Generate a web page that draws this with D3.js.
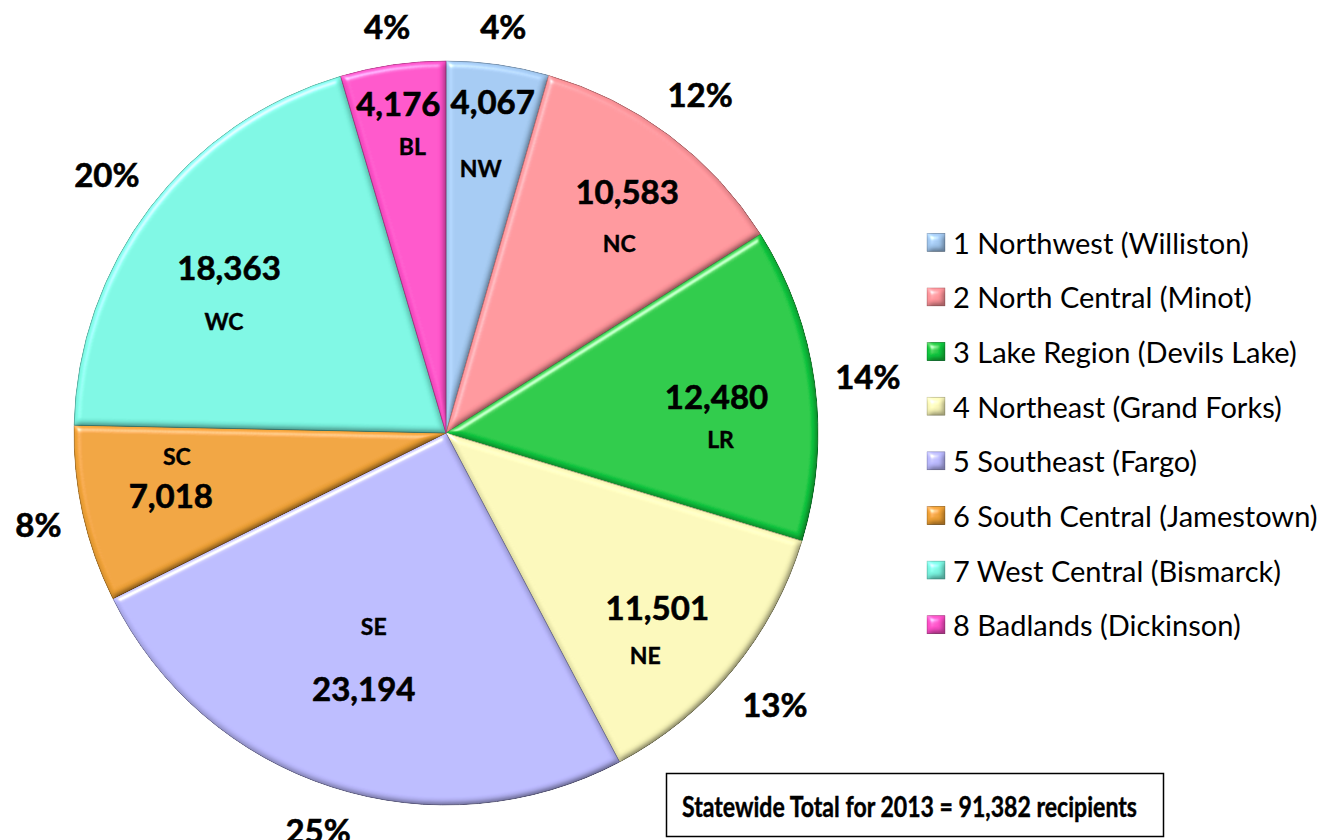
<!DOCTYPE html>
<html>
<head>
<meta charset="utf-8">
<script src="https://cdn.jsdelivr.net/npm/d3@7"></script>
<style>
  html, body { margin: 0; padding: 0; background: #fff; }
  svg { display: block; font-family: Lato, "Open Sans", sans-serif; }
  .heavy { font-weight: 700; fill: #000; stroke: #000; stroke-width: 0.6px; }
</style>
</head>
<body>
<svg id="chart" width="1331" height="840"></svg>
<script>
// Recipients by region, 2013
const codes = ["NW", "NC", "LR", "NE", "SE", "SC", "WC", "BL"];
const regionNames = [
  "1 Northwest (Williston)",
  "2 North Central (Minot)",
  "3 Lake Region (Devils Lake)",
  "4 Northeast (Grand Forks)",
  "5 Southeast (Fargo)",
  "6 South Central (Jamestown)",
  "7 West Central (Bismarck)",
  "8 Badlands (Dickinson)"
];
const recipients = [4067, 10583, 12480, 11501, 23194, 7018, 18363, 4176];
const percentLabels = ["4%", "12%", "14%", "13%", "25%", "8%", "20%", "4%"];
const colors = ["#a3c9f1", "#ff959b", "#12c940", "#faf7b9", "#bbbaff", "#f0a236", "#7bf6e2", "#ff50c9"];
const totalText = "Statewide Total for 2013 = 91,382 recipients";

// label layout: distance of the value label from the centre, and
// offset of the region code relative to the value label
const valueRadius = [335, 302, 273, 274, 268, 282, 273, 333];
const codeOffset  = [67, 52, 43, 48, -62, -39, 54, 43];
const codeDx      = [-12, -8, 4, -12, 10, 6, -5, 14];

const svg = d3.select("#chart");
const cx = 446, cy = 433, R = 372;

// bevel filter: light from the upper left, shade toward the lower right
const defs = svg.append("defs");
const f = defs.append("filter").attr("id", "bevel")
  .attr("x", "-5%").attr("y", "-5%").attr("width", "110%").attr("height", "110%");
f.append("feGaussianBlur").attr("in", "SourceAlpha").attr("stdDeviation", 3).attr("result", "blur");
const spec = f.append("feSpecularLighting").attr("in", "blur")
  .attr("surfaceScale", 4).attr("specularConstant", 0.55).attr("specularExponent", 40)
  .attr("lighting-color", "#ffffff").attr("result", "spec");
spec.append("feDistantLight").attr("azimuth", 235).attr("elevation", 45);
f.append("feComposite").attr("in", "spec").attr("in2", "SourceAlpha").attr("operator", "in").attr("result", "specIn");
const diff = f.append("feDiffuseLighting").attr("in", "blur")
  .attr("surfaceScale", 4).attr("diffuseConstant", 1)
  .attr("lighting-color", "#ffffff").attr("result", "diff");
diff.append("feDistantLight").attr("azimuth", 235).attr("elevation", 60);
f.append("feComposite").attr("in", "SourceGraphic").attr("in2", "diff")
  .attr("operator", "arithmetic").attr("k1", 1.15).attr("k2", 0).attr("k3", 0).attr("k4", 0)
  .attr("result", "shaded");
f.append("feComposite").attr("in", "shaded").attr("in2", "specIn")
  .attr("operator", "arithmetic").attr("k1", 0).attr("k2", 1).attr("k3", 1).attr("k4", 0)
  .attr("result", "lit");
f.append("feComposite").attr("in", "lit").attr("in2", "SourceAlpha").attr("operator", "in");

const pie = d3.pie().sort(null).value(d => d)(recipients);
const arc = d3.arc().innerRadius(0).outerRadius(R);

const g = svg.append("g").attr("transform", `translate(${cx},${cy})`);

g.selectAll("path.slice")
  .data(pie)
  .join("path")
  .attr("class", "slice")
  .attr("d", arc)
  .attr("fill", (d, i) => colors[i])
  .attr("stroke", (d, i) => d3.color(colors[i]).darker(0.9))
  .attr("stroke-width", 1)
  .attr("stroke-linejoin", "round")
  .attr("filter", "url(#bevel)");

const mid = d => (d.startAngle + d.endAngle) / 2;

// value and code labels inside each slice
pie.forEach((d, i) => {
  const a = mid(d);
  const x = valueRadius[i] * Math.sin(a);
  const y = -valueRadius[i] * Math.cos(a);
  g.append("text").attr("class", "heavy")
    .attr("x", x).attr("y", y)
    .attr("text-anchor", "middle").attr("dominant-baseline", "central")
    .attr("font-size", 33)
    .text(d3.format(",")(d.value));
  g.append("text").attr("class", "heavy")
    .attr("x", x + codeDx[i]).attr("y", y + codeOffset[i])
    .attr("text-anchor", "middle").attr("dominant-baseline", "central")
    .attr("font-size", 23).style("stroke-width", "0.4px")
    .text(codes[i]);
});

// percentage labels outside the pie
pie.forEach((d, i) => {
  const a = mid(d);
  const label = percentLabels[i];
  const hw = label.length > 2 ? 31 : 22, hh = 15;
  const r = R + 21 + hw * Math.abs(Math.sin(a)) + hh * Math.abs(Math.cos(a));
  g.append("text").attr("class", "heavy")
    .attr("x", r * Math.sin(a)).attr("y", -r * Math.cos(a))
    .attr("text-anchor", "middle").attr("dominant-baseline", "central")
    .attr("font-size", 33)
    .text(label);
});

// legend
const ly = d3.scaleBand().domain(d3.range(regionNames.length)).range([215, 652]);
const legend = svg.append("g");
regionNames.forEach((name, i) => {
  const yc = ly(i) + ly.bandwidth() / 2;
  legend.append("rect")
    .attr("x", 927).attr("y", yc - 9).attr("width", 18).attr("height", 18)
    .attr("fill", colors[i])
    .attr("stroke", d3.color(colors[i]).darker(0.9)).attr("stroke-width", 0.8)
    .attr("filter", "url(#bevel)");
  legend.append("text")
    .attr("x", 953).attr("y", yc)
    .attr("dominant-baseline", "central")
    .attr("font-size", 29).attr("fill", "#000")
    .text(name);
});

// statewide total box
svg.append("rect")
  .attr("x", 666.5).attr("y", 773.5).attr("width", 497).attr("height", 63)
  .attr("fill", "#fff").attr("stroke", "#000").attr("stroke-width", 1.5);
svg.append("text").attr("class", "heavy")
  .attr("x", 682).attr("y", 806)
  .attr("dominant-baseline", "central")
  .attr("font-size", 28).style("stroke-width", "0.4px")
  .attr("textLength", 455).attr("lengthAdjust", "spacingAndGlyphs")
  .text(totalText);
</script>
</body>
</html>
